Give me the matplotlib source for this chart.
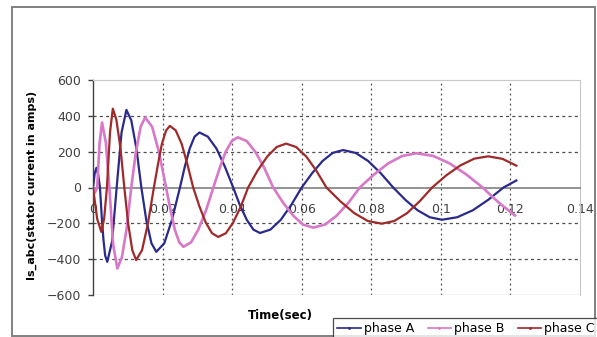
import matplotlib
matplotlib.use('Agg')
import matplotlib.pyplot as plt
from matplotlib.lines import Line2D
from matplotlib.patches import Rectangle

plt.rcParams['font.family'] = ['DejaVu Sans']

# stator currents read per phase (time in s, current in A)
t_a = [0, 0.0005, 0.001, 0.0015, 0.002, 0.0025, 0.003, 0.0035, 0.0041, 0.0055, 0.0068,
       0.0082, 0.0096, 0.011, 0.0125, 0.0139, 0.0153, 0.0168, 0.0182, 0.0205, 0.0227, 0.025,
       0.0264, 0.0278, 0.0292, 0.0306, 0.033, 0.0355, 0.0379, 0.0403,
       0.0422, 0.0442, 0.0461, 0.048, 0.051, 0.054, 0.057, 0.060,
       0.063, 0.066, 0.0689, 0.0719, 0.0755, 0.0791, 0.0827, 0.0863,
       0.0898, 0.0933, 0.0968, 0.1003, 0.1047, 0.1092, 0.1136, 0.118, 0.1217]
i_a = [0, 80, 110, 70, 0, -160, -290, -380, -415, -300, 0,
       306, 433, 375, 215, 0, -180, -311, -359, -311, -180, 0,
       117, 217, 284, 307, 284, 217, 117, 0,
       -97, -180, -235, -254, -235, -180, -97, 0,
       80, 148, 193, 209, 193, 148, 80, 0,
       -69, -127, -166, -180, -166, -127, -69, 0, 39]

t_b = [0, 0.0005, 0.0012, 0.0019, 0.0026, 0.0037, 0.0047, 0.0058, 0.007, 0.0083, 0.0097,
       0.011, 0.0123, 0.0137, 0.015, 0.017, 0.019, 0.021,
       0.0223, 0.0235, 0.0248, 0.026, 0.0282, 0.0303, 0.0325, 0.0346,
       0.0364, 0.0381, 0.0399, 0.0416, 0.0442, 0.0467, 0.0493, 0.0518,
       0.0547, 0.0576, 0.0604, 0.0633, 0.0667, 0.07, 0.0734, 0.0767,
       0.0808, 0.0849, 0.0889, 0.093, 0.0978, 0.1025, 0.1073, 0.112,
       0.1145, 0.117, 0.1213]
i_b = [0, -30, 0, 250, 363, 250, 0, -320, -452, -390, -226,
       0, 195, 339, 391, 339, 195, 0,
       -127, -234, -306, -331, -306, -234, -127, 0,
       107, 198, 259, 280, 259, 198, 107, 0,
       -86, -158, -207, -224, -207, -158, -86, 0,
       73, 135, 176, 191, 176, 135, 73, 0,
       -46, -90, -156]

t_c = [0, 0.0012, 0.0024, 0.0032, 0.004, 0.0049, 0.0057, 0.0067, 0.0079, 0.009, 0.0101,
       0.0113, 0.0124, 0.0141, 0.0158, 0.0175,
       0.0187, 0.0198, 0.021, 0.0221, 0.0238, 0.0255, 0.0271, 0.0288,
       0.0306, 0.0324, 0.0342, 0.036, 0.0382, 0.0403, 0.0425, 0.0446,
       0.0473, 0.0501, 0.0528, 0.0555, 0.0584, 0.0613, 0.0642, 0.0671,
       0.0711, 0.0751, 0.079, 0.083, 0.0866, 0.0903, 0.0939, 0.0975,
       0.1015, 0.1056, 0.1096, 0.1136, 0.1177, 0.1217]
i_c = [0, -175, -248, -175, 0, 310, 440, 380, 220, 0, -200,
       -350, -405, -350, -200, 0,
       132, 243, 318, 344, 318, 243, 132, 0,
       -106, -195, -255, -276, -255, -195, -106, 0,
       94, 173, 226, 245, 226, 173, 94, 0,
       -77, -143, -187, -202, -187, -143, -77, 0,
       67, 123, 161, 174, 160, 122]

x_ticks = [0, 0.02, 0.04, 0.06, 0.08, 0.1, 0.12, 0.14]
x_labels = ['0', '0.02', '0.04', '0.06', '0.08', '0.1', '0.12', '0.14']
y_ticks = [-600, -400, -200, 0, 200, 400, 600]
names = ['phase A', 'phase B', 'phase C']
colors = ['#2a2a8c', '#d878c8', '#a02a2a']

W, H = 597, 337
fig = plt.figure(figsize=(W / 100, H / 100), dpi=100)
fig.patch.set_facecolor('white')

# outer chart frame
fig.patches.append(Rectangle((12 / W, 1 / H), 583 / W, 329 / H, transform=fig.transFigure,
                             fill=False, edgecolor='#808080', linewidth=1.4))

ax = fig.add_axes([93 / W, 1 - 295 / H, 487 / W, 215 / H])
ax.set_xlim(0, 0.14)
ax.set_ylim(-600, 600)

# grid: dotted verticals, dashed horizontals
for x in x_ticks[1:-1]:
    ax.axvline(x, color='#505050', linewidth=0.9, linestyle=(0, (1.5, 2.5)), zorder=1)
for y in y_ticks:
    if abs(y) in (200, 400):
        ax.axhline(y, color='#505050', linewidth=0.9, linestyle=(0, (2.5, 2.5)), zorder=1)
ax.axhline(-600, color='#c8c8c8', linewidth=1.0, zorder=1)

ax.plot(t_a, i_a, color=colors[0], linewidth=1.6, zorder=3)
ax.plot(t_b, i_b, color=colors[1], linewidth=1.9, zorder=3)
ax.plot(t_c, i_c, color=colors[2], linewidth=1.6, zorder=3)

ax.spines['bottom'].set_position(('data', 0))
ax.spines['bottom'].set_color('#808080')
ax.spines['bottom'].set_linewidth(1.2)
ax.spines['left'].set_color('#404040')
ax.spines['left'].set_linewidth(1.0)
ax.spines['top'].set_color('#c8c8c8')
ax.spines['right'].set_color('#c8c8c8')

ax.set_xticks(x_ticks)
ax.set_xticklabels(x_labels)
ax.set_yticks(y_ticks)
ax.tick_params(axis='x', length=0, pad=11, labelsize=9, labelcolor='#404040')
ax.tick_params(axis='y', length=3.5, width=1.0, color='#404040', pad=5,
               labelsize=9, labelcolor='#404040')

ax.set_ylabel('Is_abc(stator current in amps)', fontsize=8, fontweight='bold')
ax.yaxis.set_label_coords(-0.115, 0.51)
fig.text(280 / W, 1 - 315 / H, 'Time(sec)', fontsize=8.5, fontweight='bold',
         ha='center', va='center')

handles = [Line2D([], [], color=c, linewidth=1.2, marker='.', markersize=2) for c in colors]
leg = fig.legend(handles, names, loc='upper left', bbox_to_anchor=(333 / W, 1 - 318 / H),
                 ncol=3, fontsize=9, handlelength=1.85, handletextpad=0.25,
                 columnspacing=1.1, borderpad=0.35, borderaxespad=0, fancybox=False,
                 frameon=True)
leg.get_frame().set_edgecolor('#202020')
leg.get_frame().set_linewidth(0.9)

fig.savefig('out.png', dpi=100)
